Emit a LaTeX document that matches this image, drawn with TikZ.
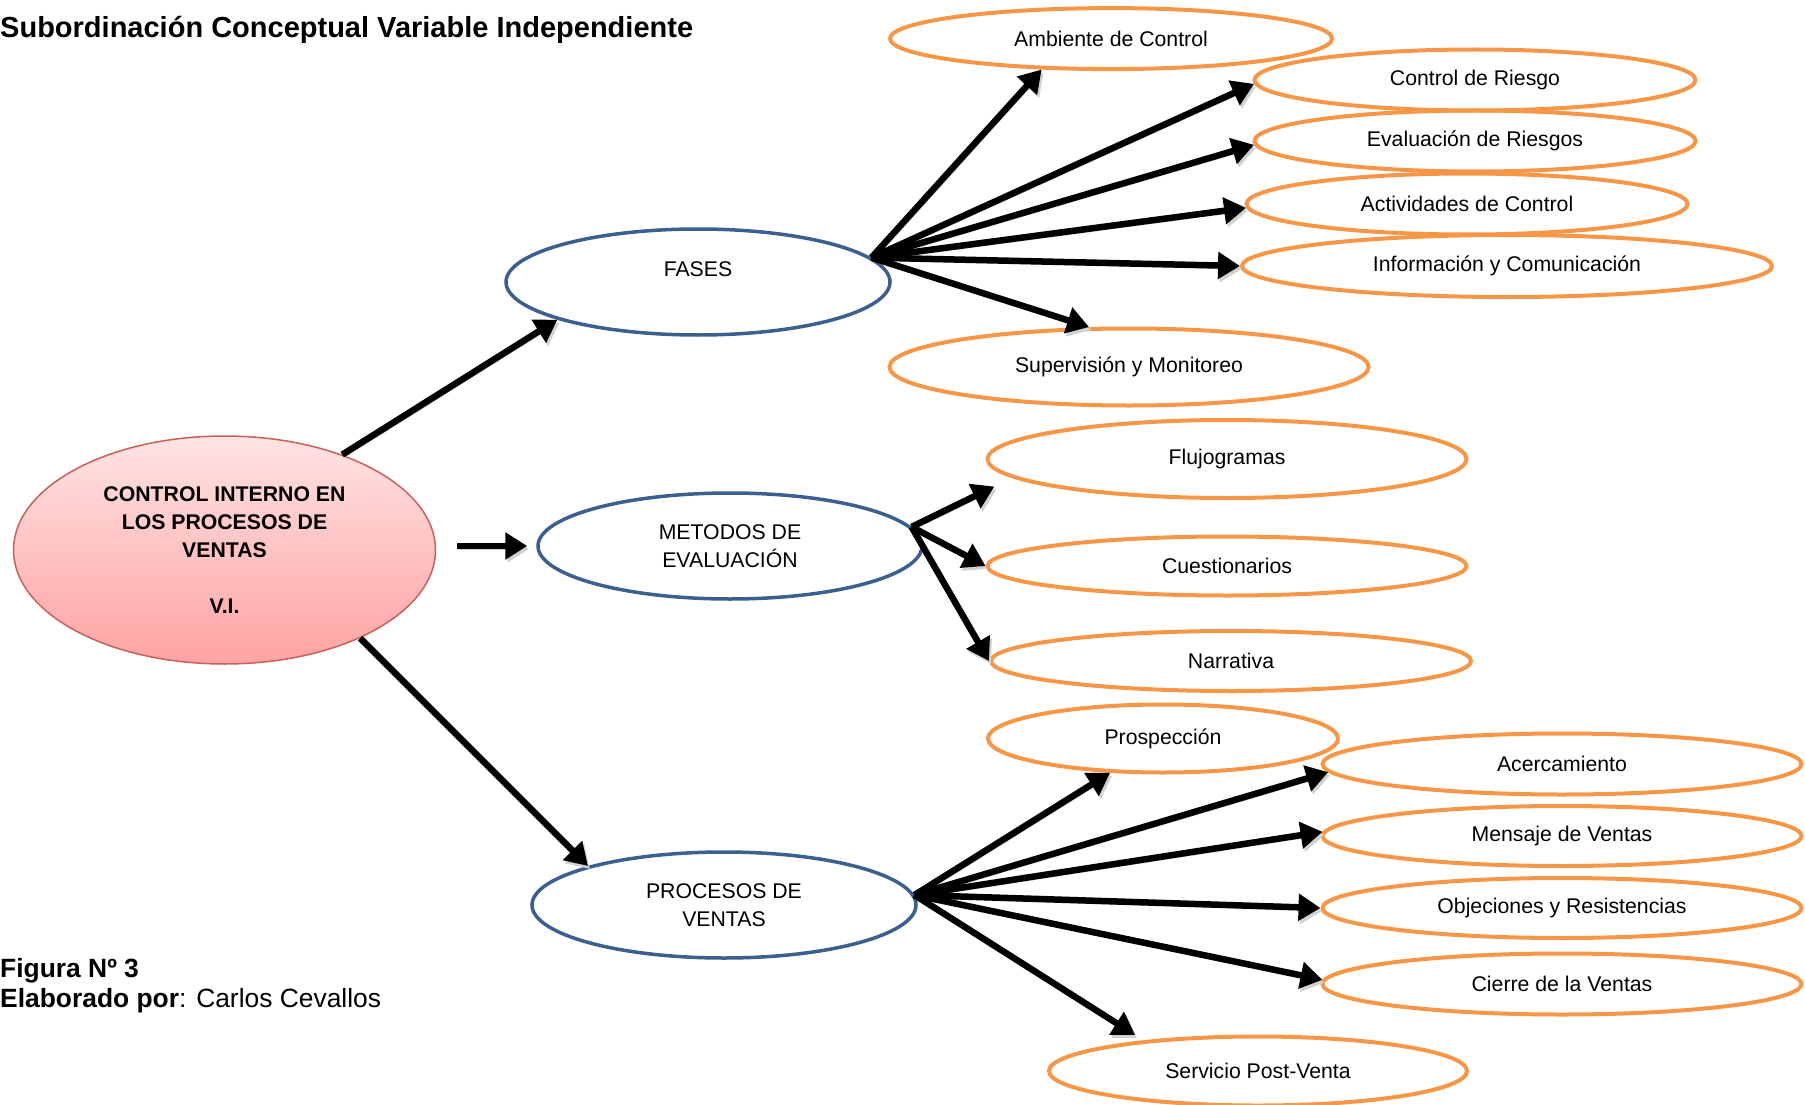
\documentclass[tikz,border=0pt]{standalone}
\usepackage{fontspec}
\setmainfont{Liberation Sans}
\usetikzlibrary{shapes.geometric,arrows.meta}
\definecolor{naranja}{HTML}{F79646}
\definecolor{azul}{HTML}{3B5F8E}
\definecolor{rojo}{HTML}{C9605C}
\definecolor{rosa1}{HTML}{FFE3E3}
\definecolor{rosa2}{HTML}{FFA3A3}
\begin{document}
\begin{tikzpicture}[x=1pt,y=-1pt,
  vi/.style={ellipse,draw=rojo,line width=1.5pt,top color=rosa1,bottom color=rosa2,
    minimum width=422pt,minimum height=228pt,inner sep=0pt,align=center,
    font=\fontsize{21.25}{28}\selectfont\bfseries},
  fase/.style={ellipse,draw=azul,line width=3.5pt,minimum width=384pt,minimum height=106pt,
    inner sep=0pt,align=center,font=\fontsize{21.25}{28}\selectfont},
  item/.style={ellipse,draw=naranja,line width=4pt,inner sep=0pt,
    font=\fontsize{21.25}{26}\selectfont},
  flecha/.style={line width=6.5pt,-{Triangle[length=22pt,width=26pt]},
    preaction={draw=black!18,transform canvas={shift={(2pt,-3pt)}}}},
  txt/.style={anchor=base west,inner sep=0pt}]
\useasboundingbox (0,0) rectangle (1805,1105);

% titulo y pie
\draw (0,38) node[txt,font=\fontsize{29}{34}\selectfont\bfseries] (Titulo) {Subordinación Conceptual Variable Independiente};
\draw (0,977) node[txt,font=\fontsize{26.4}{29}\selectfont\bfseries] (Fig) {Figura Nº 3};
\draw (0,1007) node[txt,font=\fontsize{26.4}{29}\selectfont] (Elab) {\textbf{Elaborado por}: Carlos Cevallos};

% variable independiente
\draw (224.5,550) node[vi] (VI) {CONTROL INTERNO EN\\LOS PROCESOS DE\\VENTAS\\[28pt]V.I.};

% dimensiones
\draw (698,282) node[fase] (Fases) {\raisebox{12.7pt}[\height][\depth]{FASES}};
\draw (730,546) node[fase] (Metodos) {METODOS DE\\EVALUACIÓN};
\draw (724,905) node[fase] (Procesos) {PROCESOS DE\\VENTAS};

% fases
\draw (1111,38.6) node[item,minimum width=442pt,minimum height=61pt] (Amb) {Ambiente de Control};
\draw (1475,80) node[item,minimum width=441pt,minimum height=61pt] (CRie) {Control de Riesgo};
\draw (1475,141) node[item,minimum width=441pt,minimum height=61pt] (ERie) {Evaluación de Riesgos};
\draw (1467,204) node[item,minimum width=441pt,minimum height=61pt] (Act) {Actividades de Control};
\draw (1507,266) node[item,minimum width=530pt,minimum height=62pt] (Info) {Información y Comunicación};
\draw (1129,367) node[item,minimum width=479pt,minimum height=77pt] (Sup) {Supervisión y Monitoreo};

% metodos
\draw (1227,459) node[item,minimum width=479pt,minimum height=78pt] (Flu) {Flujogramas};
\draw (1227,566) node[item,minimum width=479pt,minimum height=59pt] (Cue) {Cuestionarios};
\draw (1231,661) node[item,minimum width=480pt,minimum height=60pt] (Nar) {Narrativa};

% procesos
\draw (1163,738.5) node[item,minimum width=350pt,minimum height=68pt] (Pro) {Prospección};
\draw (1562,764) node[item,minimum width=479pt,minimum height=61pt] (Ace) {Acercamiento};
\draw (1562,836) node[item,minimum width=479pt,minimum height=60pt] (Men) {Mensaje de Ventas};
\draw (1562,908) node[item,minimum width=479pt,minimum height=60pt] (Obj) {Objeciones y Resistencias};
\draw (1562,984) node[item,minimum width=479pt,minimum height=61pt] (Cie) {Cierre de la Ventas};
\draw (1258,1071) node[item,minimum width=418pt,minimum height=69pt] (Ser) {Servicio Post-Venta};

% flechas
\draw[flecha] (VI.39) -- (Fases.195);
\draw[flecha,shorten <=21pt,shorten >=9pt] (VI.east |- Metodos) -- (Metodos.west);
\draw[flecha] (VI.-33) -- (Procesos.164);

\coordinate (F) at (Fases.8);
\coordinate (M) at (Metodos.6);
\coordinate (P) at (Procesos.3);

\foreach \t in {Amb.204,CRie.181,ERie.181,Act.181,Info.west,Sup.135}
  \draw[flecha] (F) -- (\t);
\draw[flecha,shorten >=20pt] (M) -- (Flu.185);
\foreach \t in {Cue.west,Nar.west}
  \draw[flecha] (M) -- (\t);
\foreach \t in {Pro.213,Ace.182,Men.179,Obj.west,Cie.179}
  \draw[flecha] (P) -- (\t);
\draw[flecha,shorten >=10pt] (P) -- (Ser.165);

\end{tikzpicture}
\end{document}
